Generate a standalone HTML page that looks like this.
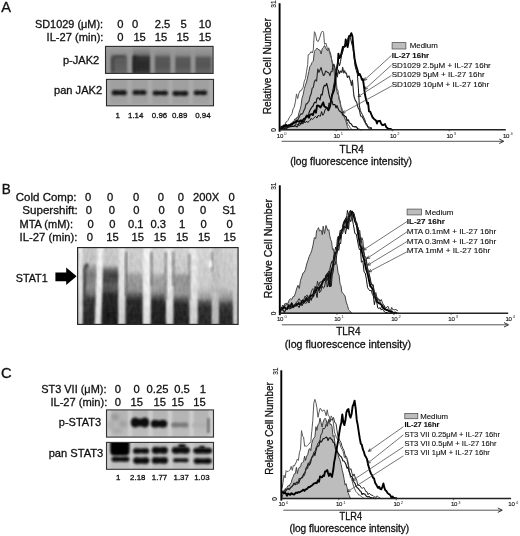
<!DOCTYPE html>
<html><head><meta charset="utf-8"><style>
html,body{margin:0;padding:0;background:#fff;}
body{width:520px;height:536px;overflow:hidden;}
svg{display:block;font-family:"Liberation Sans", sans-serif;will-change:transform;}
</style></head><body>
<svg width="520" height="536" viewBox="0 0 520 536">
<defs>
<filter id="b1" x="-50%" y="-50%" width="200%" height="200%"><feGaussianBlur stdDeviation="1.2"/></filter>
<filter id="b2" x="-50%" y="-50%" width="200%" height="200%"><feGaussianBlur stdDeviation="2"/></filter>
<filter id="b3" x="-50%" y="-50%" width="200%" height="200%"><feGaussianBlur stdDeviation="0.8"/></filter>
<filter id="b4" x="-50%" y="-50%" width="200%" height="200%"><feGaussianBlur stdDeviation="3"/></filter>
<clipPath id="cA1"><rect x="105.5" y="46.5" width="107.5" height="26.5"/></clipPath>
<clipPath id="cA2"><rect x="106.5" y="79.5" width="106.5" height="26"/></clipPath>
<clipPath id="cG"><rect x="77.5" y="247.5" width="160.5" height="76.5"/></clipPath>
<clipPath id="cC1"><rect x="106.5" y="410" width="106.5" height="27"/></clipPath>
<clipPath id="cC2"><rect x="106.5" y="442.5" width="106.5" height="26.5"/></clipPath>
<linearGradient id="gpj" x1="0" y1="0" x2="0" y2="1">
 <stop offset="0" stop-color="#a2a2a2"/><stop offset="0.3" stop-color="#8c8c8c"/><stop offset="1" stop-color="#7a7a7a"/>
</linearGradient>
<linearGradient id="vg1" gradientUnits="userSpaceOnUse" x1="0" y1="46" x2="0" y2="74"><stop offset="0.000" stop-color="#a2a2a2"/><stop offset="0.250" stop-color="#989898"/><stop offset="0.429" stop-color="#868686"/><stop offset="0.964" stop-color="#808080"/></linearGradient><linearGradient id="vg2" gradientUnits="userSpaceOnUse" x1="0" y1="46" x2="0" y2="74"><stop offset="0.000" stop-color="#a0a0a0"/><stop offset="0.286" stop-color="#8e8e8e"/><stop offset="0.375" stop-color="#606060"/><stop offset="0.571" stop-color="#5c5c5c"/><stop offset="0.857" stop-color="#626262"/><stop offset="1.000" stop-color="#6e6e6e"/></linearGradient><linearGradient id="vg3" gradientUnits="userSpaceOnUse" x1="0" y1="46" x2="0" y2="74"><stop offset="0.000" stop-color="#9e9e9e"/><stop offset="0.286" stop-color="#767676"/><stop offset="0.393" stop-color="#343434"/><stop offset="0.714" stop-color="#282828"/><stop offset="0.893" stop-color="#323232"/><stop offset="1.000" stop-color="#484848"/></linearGradient><linearGradient id="vg4" gradientUnits="userSpaceOnUse" x1="0" y1="46" x2="0" y2="74"><stop offset="0.000" stop-color="#a0a0a0"/><stop offset="0.286" stop-color="#8a8a8a"/><stop offset="0.411" stop-color="#585858"/><stop offset="0.714" stop-color="#545454"/><stop offset="0.857" stop-color="#5e5e5e"/><stop offset="1.000" stop-color="#686868"/></linearGradient><linearGradient id="vg5" gradientUnits="userSpaceOnUse" x1="0" y1="46" x2="0" y2="74"><stop offset="0.000" stop-color="#a0a0a0"/><stop offset="0.321" stop-color="#8a8a8a"/><stop offset="0.429" stop-color="#5a5a5a"/><stop offset="0.714" stop-color="#565656"/><stop offset="0.857" stop-color="#606060"/><stop offset="1.000" stop-color="#6a6a6a"/></linearGradient><linearGradient id="vg6" gradientUnits="userSpaceOnUse" x1="0" y1="46" x2="0" y2="74"><stop offset="0.000" stop-color="#a0a0a0"/><stop offset="0.321" stop-color="#8a8a8a"/><stop offset="0.429" stop-color="#5a5a5a"/><stop offset="0.714" stop-color="#565656"/><stop offset="0.857" stop-color="#606060"/><stop offset="1.000" stop-color="#6a6a6a"/></linearGradient><linearGradient id="vg7" gradientUnits="userSpaceOnUse" x1="0" y1="79" x2="0" y2="106"><stop offset="0.000" stop-color="#a0a0a0"/><stop offset="0.593" stop-color="#9e9e9e"/><stop offset="0.889" stop-color="#a2a2a2"/><stop offset="1.000" stop-color="#acacac"/></linearGradient><linearGradient id="vg8" gradientUnits="userSpaceOnUse" x1="0" y1="410" x2="0" y2="437"><stop offset="0.000" stop-color="#b4b4b4"/><stop offset="0.556" stop-color="#b6b6b6"/><stop offset="1.000" stop-color="#bebebe"/></linearGradient><linearGradient id="vg9" gradientUnits="userSpaceOnUse" x1="0" y1="442" x2="0" y2="469"><stop offset="0.000" stop-color="#bcbcbc"/><stop offset="0.481" stop-color="#b9b9b9"/><stop offset="1.000" stop-color="#c0c0c0"/></linearGradient><filter id="grain" x="0" y="0" width="100%" height="100%" color-interpolation-filters="sRGB"><feTurbulence type="fractalNoise" baseFrequency="0.3 0.15" numOctaves="2" seed="5" result="n"/><feColorMatrix in="n" type="matrix" values="1 0 0 0 0  1 0 0 0 0  1 0 0 0 0  0 0 0 0 1" result="g"/><feComposite in="SourceGraphic" in2="g" operator="arithmetic" k1="0" k2="1" k3="0.12" k4="-0.06"/></filter><linearGradient id="vg10" gradientUnits="userSpaceOnUse" x1="0" y1="247" x2="0" y2="325"><stop offset="0.000" stop-color="#c8c8c8"/><stop offset="0.487" stop-color="#b9b9b9"/><stop offset="0.679" stop-color="#969696"/><stop offset="1.000" stop-color="#8c8c8c"/></linearGradient><linearGradient id="vg11" gradientUnits="userSpaceOnUse" x1="0" y1="247" x2="0" y2="325"><stop offset="0.000" stop-color="#c6c6c6"/><stop offset="0.205" stop-color="#c0c0c0"/><stop offset="0.269" stop-color="#989898"/><stop offset="0.346" stop-color="#7c7c7c"/><stop offset="0.423" stop-color="#808080"/><stop offset="0.526" stop-color="#8c8c8c"/><stop offset="0.603" stop-color="#707070"/><stop offset="0.667" stop-color="#373737"/><stop offset="1.000" stop-color="#232323"/></linearGradient><linearGradient id="vg12" gradientUnits="userSpaceOnUse" x1="0" y1="247" x2="0" y2="325"><stop offset="0.000" stop-color="#cacaca"/><stop offset="0.231" stop-color="#c2c2c2"/><stop offset="0.295" stop-color="#646464"/><stop offset="0.359" stop-color="#424242"/><stop offset="0.449" stop-color="#4a4a4a"/><stop offset="0.487" stop-color="#5c5c5c"/><stop offset="0.551" stop-color="#545454"/><stop offset="0.615" stop-color="#282828"/><stop offset="1.000" stop-color="#191919"/></linearGradient><linearGradient id="vg13" gradientUnits="userSpaceOnUse" x1="0" y1="247" x2="0" y2="325"><stop offset="0.000" stop-color="#cecece"/><stop offset="0.308" stop-color="#c7c7c7"/><stop offset="0.359" stop-color="#a0a0a0"/><stop offset="0.436" stop-color="#969696"/><stop offset="0.487" stop-color="#969696"/><stop offset="0.564" stop-color="#878787"/><stop offset="0.628" stop-color="#505050"/><stop offset="0.679" stop-color="#2d2d2d"/><stop offset="1.000" stop-color="#1e1e1e"/></linearGradient><linearGradient id="vg14" gradientUnits="userSpaceOnUse" x1="0" y1="247" x2="0" y2="325"><stop offset="0.000" stop-color="#d5d5d5"/><stop offset="0.321" stop-color="#cecece"/><stop offset="0.372" stop-color="#a5a5a5"/><stop offset="0.449" stop-color="#9e9e9e"/><stop offset="0.500" stop-color="#a0a0a0"/><stop offset="0.577" stop-color="#919191"/><stop offset="0.641" stop-color="#555555"/><stop offset="0.705" stop-color="#2a2a2a"/><stop offset="1.000" stop-color="#1e1e1e"/></linearGradient><linearGradient id="vg15" gradientUnits="userSpaceOnUse" x1="0" y1="247" x2="0" y2="325"><stop offset="0.000" stop-color="#d1d1d1"/><stop offset="0.321" stop-color="#c7c7c7"/><stop offset="0.372" stop-color="#969696"/><stop offset="0.462" stop-color="#929292"/><stop offset="0.513" stop-color="#9b9b9b"/><stop offset="0.603" stop-color="#969696"/><stop offset="0.667" stop-color="#5a5a5a"/><stop offset="0.731" stop-color="#2d2d2d"/><stop offset="1.000" stop-color="#202020"/></linearGradient><linearGradient id="vg16" gradientUnits="userSpaceOnUse" x1="0" y1="247" x2="0" y2="325"><stop offset="0.000" stop-color="#d6d6d6"/><stop offset="0.526" stop-color="#c8c8c8"/><stop offset="0.654" stop-color="#989898"/><stop offset="0.718" stop-color="#464646"/><stop offset="0.782" stop-color="#303030"/><stop offset="1.000" stop-color="#282828"/></linearGradient><linearGradient id="vg17" gradientUnits="userSpaceOnUse" x1="0" y1="247" x2="0" y2="325"><stop offset="0.000" stop-color="#d0d0d0"/><stop offset="0.526" stop-color="#c4c4c4"/><stop offset="0.667" stop-color="#8e8e8e"/><stop offset="0.731" stop-color="#464646"/><stop offset="0.795" stop-color="#303030"/><stop offset="1.000" stop-color="#282828"/></linearGradient><linearGradient id="vg18" gradientUnits="userSpaceOnUse" x1="0" y1="247" x2="0" y2="325"><stop offset="0.000" stop-color="#e8e8e8"/><stop offset="0.551" stop-color="#e2e2e2"/><stop offset="1.000" stop-color="#d4d4d4"/></linearGradient><linearGradient id="vg19" gradientUnits="userSpaceOnUse" x1="0" y1="247" x2="0" y2="325"><stop offset="0.000" stop-color="#f0f0f0"/><stop offset="0.551" stop-color="#eaeaea"/><stop offset="1.000" stop-color="#dedede"/></linearGradient><linearGradient id="vg20" gradientUnits="userSpaceOnUse" x1="0" y1="247" x2="0" y2="325"><stop offset="0.000" stop-color="#e4e4e4"/><stop offset="0.551" stop-color="#dedede"/><stop offset="1.000" stop-color="#cdcdcd"/></linearGradient><linearGradient id="vg21" gradientUnits="userSpaceOnUse" x1="0" y1="247" x2="0" y2="325"><stop offset="0.000" stop-color="#f0f0f0"/><stop offset="0.551" stop-color="#eaeaea"/><stop offset="1.000" stop-color="#dedede"/></linearGradient><linearGradient id="vg22" gradientUnits="userSpaceOnUse" x1="0" y1="247" x2="0" y2="325"><stop offset="0.000" stop-color="#e8e8e8"/><stop offset="0.551" stop-color="#e2e2e2"/><stop offset="1.000" stop-color="#d2d2d2"/></linearGradient><linearGradient id="vg23" gradientUnits="userSpaceOnUse" x1="0" y1="247" x2="0" y2="325"><stop offset="0.000" stop-color="#e6e6e6"/><stop offset="0.551" stop-color="#e0e0e0"/><stop offset="1.000" stop-color="#cdcdcd"/></linearGradient><linearGradient id="vg24" gradientUnits="userSpaceOnUse" x1="0" y1="247" x2="0" y2="325"><stop offset="0.000" stop-color="#c3c3c3"/><stop offset="0.551" stop-color="#bdbdbd"/><stop offset="1.000" stop-color="#b9b9b9"/></linearGradient><linearGradient id="vg25" gradientUnits="userSpaceOnUse" x1="0" y1="247" x2="0" y2="325"><stop offset="0.000" stop-color="#d4d4d4"/><stop offset="0.551" stop-color="#cecece"/><stop offset="1.000" stop-color="#c6c6c6"/></linearGradient></defs>
<rect width="520" height="536" fill="#fff"/>
<g clip-path="url(#cA1)">
<rect x="105" y="45" width="110" height="30" fill="url(#vg1)"/>
<rect x="110.5" y="45" width="16.5" height="30" fill="url(#vg2)" filter="url(#b3)"/>
<rect x="132.5" y="45" width="18.0" height="30" fill="url(#vg3)" filter="url(#b3)"/>
<rect x="154.5" y="45" width="16.0" height="30" fill="url(#vg4)" filter="url(#b3)"/>
<rect x="175" y="45" width="16" height="30" fill="url(#vg5)" filter="url(#b3)"/>
<rect x="195" y="45" width="16" height="30" fill="url(#vg6)" filter="url(#b3)"/>
<rect x="106.2" y="50" width="3.6" height="24" fill="#959595" filter="url(#b1)"/>
<rect x="128.0" y="50" width="3.6" height="24" fill="#959595" filter="url(#b1)"/>
<rect x="150.7" y="50" width="3.6" height="24" fill="#959595" filter="url(#b1)"/>
<rect x="171.0" y="50" width="3.6" height="24" fill="#959595" filter="url(#b1)"/>
<rect x="191.2" y="50" width="3.6" height="24" fill="#959595" filter="url(#b1)"/>
<path d="M111.5,72 L111.5,60 Q112,55.5 116,55.5 L125,55.5 L125,58 L117,58 Q114.5,58.5 114.5,62 L114.5,72 Z" fill="#4a4a4a" filter="url(#b1)"/>
<rect x="133" y="56" width="4" height="16" fill="#2a2a2a" filter="url(#b1)"/>
</g>
<rect x="105.5" y="46.4" width="107.6" height="27" fill="none" stroke="#2a2a2a" stroke-width="1.1"/>
<g clip-path="url(#cA2)">
<rect x="106" y="79" width="108" height="28" fill="url(#vg7)"/>
<rect x="106" y="79" width="4" height="28" fill="#ababab" filter="url(#b1)"/>
<rect x="127.5" y="79" width="4" height="28" fill="#ababab" filter="url(#b1)"/>
<rect x="148" y="79" width="4" height="28" fill="#ababab" filter="url(#b1)"/>
<rect x="168.5" y="79" width="4" height="28" fill="#ababab" filter="url(#b1)"/>
<rect x="189" y="79" width="4" height="28" fill="#ababab" filter="url(#b1)"/>
<rect x="209.5" y="79" width="4" height="28" fill="#ababab" filter="url(#b1)"/>
<path d="M115.30,90.10 Q119.30,90.90 123.30,90.10 Q126.90,90.10 126.90,92.70 Q126.90,95.30 123.30,95.30 Q119.30,94.50 115.30,95.30 Q111.70,95.30 111.70,92.70 Q111.70,90.10 115.30,90.10 Z" fill="#141414" filter="url(#b3)"/>
<path d="M135.90,90.00 Q139.50,90.80 143.10,90.00 Q146.60,90.00 146.60,92.50 Q146.60,95.00 143.10,95.00 Q139.50,94.20 135.90,95.00 Q132.40,95.00 132.40,92.50 Q132.40,90.00 135.90,90.00 Z" fill="#141414" filter="url(#b3)"/>
<path d="M156.10,90.40 Q160.30,91.40 164.50,90.40 Q168.00,90.40 168.00,92.90 Q168.00,95.40 164.50,95.40 Q160.30,94.40 156.10,95.40 Q152.60,95.40 152.60,92.90 Q152.60,90.40 156.10,90.40 Z" fill="#141414" filter="url(#b3)"/>
<path d="M176.00,90.70 Q180.35,91.70 184.70,90.70 Q188.30,90.70 188.30,93.30 Q188.30,95.90 184.70,95.90 Q180.35,94.90 176.00,95.90 Q172.40,95.90 172.40,93.30 Q172.40,90.70 176.00,90.70 Z" fill="#141414" filter="url(#b3)"/>
<path d="M197.20,90.30 Q200.45,91.30 203.70,90.30 Q207.20,90.30 207.20,92.80 Q207.20,95.30 203.70,95.30 Q200.45,94.30 197.20,95.30 Q193.70,95.30 193.70,92.80 Q193.70,90.30 197.20,90.30 Z" fill="#141414" filter="url(#b3)"/>
</g>
<rect x="106.5" y="79.4" width="107" height="26.4" fill="none" stroke="#2a2a2a" stroke-width="1.1"/>
<g clip-path="url(#cC1)">
<rect x="106" y="409" width="108" height="29" fill="url(#vg8)"/>
<rect x="106.8" y="409" width="4.4" height="29" fill="#cdcdcd" filter="url(#b1)"/>
<rect x="127.8" y="409" width="4.4" height="29" fill="#cdcdcd" filter="url(#b1)"/>
<rect x="148.3" y="409" width="4.4" height="29" fill="#cdcdcd" filter="url(#b1)"/>
<rect x="167.8" y="409" width="4.4" height="29" fill="#cdcdcd" filter="url(#b1)"/>
<rect x="189.3" y="409" width="4.4" height="29" fill="#cdcdcd" filter="url(#b1)"/>
<rect x="208.8" y="409" width="4.4" height="29" fill="#cdcdcd" filter="url(#b1)"/>
<ellipse cx="115" cy="417" rx="4" ry="2.5" fill="#8a8a8a" filter="url(#b2)"/>
<ellipse cx="123" cy="424" rx="3.5" ry="2.5" fill="#939393" filter="url(#b2)"/>
<ellipse cx="117" cy="431" rx="5" ry="2" fill="#9c9c9c" filter="url(#b2)"/>
<ellipse cx="110" cy="425" rx="2" ry="5" fill="#a0a0a0" filter="url(#b2)"/>
<path d="M135.90,417.60 Q140.00,420.40 144.10,417.60 Q149.20,417.60 149.20,422.60 Q149.20,427.60 144.10,427.60 Q140.00,424.80 135.90,427.60 Q130.80,427.60 130.80,422.60 Q130.80,417.60 135.90,417.60 Z" fill="#0a0a0a" filter="url(#b3)"/>
<path d="M155.35,419.70 Q159.00,421.30 162.65,419.70 Q167.30,419.70 167.30,423.70 Q167.30,427.70 162.65,427.70 Q159.00,426.10 155.35,427.70 Q150.70,427.70 150.70,423.70 Q150.70,419.70 155.35,419.70 Z" fill="#0e0e0e" filter="url(#b3)"/>
<path d="M174.80,422.30 Q179.80,423.10 184.80,422.30 Q188.40,422.30 188.40,424.90 Q188.40,427.50 184.80,427.50 Q179.80,426.70 174.80,427.50 Q171.20,427.50 171.20,424.90 Q171.20,422.30 174.80,422.30 Z" fill="#7a7a7a" filter="url(#b3)"/>
<path d="M195.20,423.00 Q199.85,423.80 204.50,423.00 Q207.70,423.00 207.70,425.20 Q207.70,427.40 204.50,427.40 Q199.85,426.60 195.20,427.40 Q192.00,427.40 192.00,425.20 Q192.00,423.00 195.20,423.00 Z" fill="#b0b0b0" filter="url(#b3)"/>
<rect x="207.2" y="418" width="2.4" height="15" fill="#6a6a6a" filter="url(#b3)"/>
</g>
<rect x="106.5" y="409.9" width="107" height="27.2" fill="none" stroke="#333" stroke-width="1.1"/>
<g clip-path="url(#cC2)">
<rect x="106" y="441" width="108" height="30" fill="url(#vg9)"/>
<rect x="106.8" y="441" width="4.4" height="30" fill="#cbcbcb" filter="url(#b1)"/>
<rect x="129.3" y="441" width="4.4" height="30" fill="#cbcbcb" filter="url(#b1)"/>
<rect x="148.3" y="441" width="4.4" height="30" fill="#cbcbcb" filter="url(#b1)"/>
<rect x="168.3" y="441" width="4.4" height="30" fill="#cbcbcb" filter="url(#b1)"/>
<rect x="189.3" y="441" width="4.4" height="30" fill="#cbcbcb" filter="url(#b1)"/>
<rect x="209.3" y="441" width="4.4" height="30" fill="#cbcbcb" filter="url(#b1)"/>
<path d="M110.2,441 L129.5,441 L129.5,451 Q129.5,455.5 125,455.5 L114.5,455.5 Q110.2,455.5 110.2,451 Z" fill="#050505" filter="url(#b3)"/>
<path d="M115.10,456.60 Q120.45,457.40 125.80,456.60 Q129.40,456.60 129.40,459.20 Q129.40,461.80 125.80,461.80 Q120.45,461.00 115.10,461.80 Q111.50,461.80 111.50,459.20 Q111.50,456.60 115.10,456.60 Z" fill="#0a0a0a" filter="url(#b3)"/>
<path d="M136.90,448.00 Q141.10,449.00 145.30,448.00 Q149.20,448.00 149.20,450.90 Q149.20,453.80 145.30,453.80 Q141.10,452.80 136.90,453.80 Q133.00,453.80 133.00,450.90 Q133.00,448.00 136.90,448.00 Z" fill="#0a0a0a" filter="url(#b3)"/>
<path d="M137.40,457.20 Q141.25,458.40 145.10,457.20 Q149.50,457.20 149.50,460.60 Q149.50,464.00 145.10,464.00 Q141.25,462.80 137.40,464.00 Q133.00,464.00 133.00,460.60 Q133.00,457.20 137.40,457.20 Z" fill="#0a0a0a" filter="url(#b3)"/>
<path d="M156.27,446.70 Q159.85,447.90 163.43,446.70 Q168.00,446.70 168.00,450.30 Q168.00,453.90 163.43,453.90 Q159.85,452.70 156.27,453.90 Q151.70,453.90 151.70,450.30 Q151.70,446.70 156.27,446.70 Z" fill="#0a0a0a" filter="url(#b3)"/>
<path d="M156.10,457.00 Q159.85,458.00 163.60,457.00 Q168.00,457.00 168.00,460.40 Q168.00,463.80 163.60,463.80 Q159.85,462.80 156.10,463.80 Q151.70,463.80 151.70,460.40 Q151.70,457.00 156.10,457.00 Z" fill="#0a0a0a" filter="url(#b3)"/>
<path d="M176.00,446.90 Q180.80,447.70 185.60,446.90 Q190.00,446.90 190.00,450.30 Q190.00,453.70 185.60,453.70 Q180.80,452.90 176.00,453.70 Q171.60,453.70 171.60,450.30 Q171.60,446.90 176.00,446.90 Z" fill="#0a0a0a" filter="url(#b3)"/>
<ellipse cx="182" cy="446" rx="4" ry="2" fill="#0a0a0a" filter="url(#b3)"/>
<path d="M176.00,458.20 Q180.80,458.80 185.60,458.20 Q188.60,458.20 188.60,460.20 Q188.60,462.20 185.60,462.20 Q180.80,461.60 176.00,462.20 Q173.00,462.20 173.00,460.20 Q173.00,458.20 176.00,458.20 Z" fill="#0a0a0a" filter="url(#b3)"/>
<path d="M197.20,447.80 Q202.70,448.60 208.20,447.80 Q212.20,447.80 212.20,450.80 Q212.20,453.80 208.20,453.80 Q202.70,453.00 197.20,453.80 Q193.20,453.80 193.20,450.80 Q193.20,447.80 197.20,447.80 Z" fill="#0a0a0a" filter="url(#b3)"/>
<ellipse cx="202" cy="447.5" rx="3" ry="1.8" fill="#0a0a0a" filter="url(#b3)"/>
<path d="M197.60,458.00 Q202.70,459.00 207.80,458.00 Q211.80,458.00 211.80,461.00 Q211.80,464.00 207.80,464.00 Q202.70,463.00 197.60,464.00 Q193.60,464.00 193.60,461.00 Q193.60,458.00 197.60,458.00 Z" fill="#0a0a0a" filter="url(#b3)"/>
</g>
<rect x="106.5" y="442.4" width="107" height="26.9" fill="none" stroke="#333" stroke-width="1.1"/>
<g clip-path="url(#cG)"><g filter="url(#grain)">
<rect x="77" y="247" width="162" height="78" fill="url(#vg10)"/>
<rect x="82" y="247" width="16" height="78" fill="url(#vg11)" filter="url(#b3)"/>
<rect x="101.5" y="247" width="18.0" height="78" fill="url(#vg12)" filter="url(#b3)"/>
<rect x="125.5" y="247" width="18.5" height="78" fill="url(#vg13)" filter="url(#b3)"/>
<rect x="150" y="247" width="17" height="78" fill="url(#vg14)" filter="url(#b3)"/>
<rect x="172.5" y="247" width="18.0" height="78" fill="url(#vg15)" filter="url(#b3)"/>
<rect x="196.5" y="247" width="16.5" height="78" fill="url(#vg16)" filter="url(#b3)"/>
<rect x="218.5" y="247" width="15.5" height="78" fill="url(#vg17)" filter="url(#b3)"/>
<path d="M82.5,300 L82.5,270 Q83.5,264 87.5,263 L88.5,266 Q86,268 86,273 L86,300 Z" fill="#4a4a4a" filter="url(#b1)"/>
<path d="M78.30000000000001,247 Q78.00000000000001,286 78.30000000000001,325 L82.5,325 Q82.8,286 82.5,247 Z" fill="url(#vg18)" filter="url(#b3)"/>
<path d="M97.3,247 Q96.2,286 94.69999999999999,325 L100.5,325 Q102.60000000000001,286 103.10000000000001,247 Z" fill="url(#vg19)" filter="url(#b3)"/>
<path d="M118.8,247 Q118.3,286 118.2,325 L124.60000000000001,325 Q125.3,286 125.2,247 Z" fill="url(#vg20)" filter="url(#b3)"/>
<path d="M143.10000000000002,247 Q142.8,286 142.9,325 L150.29999999999998,325 Q150.8,286 150.5,247 Z" fill="url(#vg21)" filter="url(#b3)"/>
<path d="M166.0,247 Q165.89999999999998,286 166.2,325 L173.0,325 Q173.3,286 172.8,247 Z" fill="url(#vg22)" filter="url(#b3)"/>
<path d="M189.5,247 Q189.39999999999998,286 189.7,325 L197.5,325 Q197.8,286 197.3,247 Z" fill="url(#vg23)" filter="url(#b3)"/>
<path d="M212.29999999999998,247 Q211.7,286 211.7,325 L218.3,325 Q218.90000000000003,286 218.9,247 Z" fill="url(#vg24)" filter="url(#b3)"/>
<path d="M233.20000000000002,247 Q232.9,286 233.20000000000002,325 L237.4,325 Q237.70000000000002,286 237.4,247 Z" fill="url(#vg25)" filter="url(#b3)"/>
<rect x="125.3" y="252" width="1.8" height="44" fill="#696969" filter="url(#b1)"/>
<rect x="150.7" y="252" width="1.8" height="34" fill="#737373" filter="url(#b1)"/>
<rect x="164.7" y="252" width="1.8" height="48" fill="#787878" filter="url(#b1)"/>
<rect x="172.5" y="252" width="1.8" height="34" fill="#737373" filter="url(#b1)"/>
<rect x="188.4" y="254" width="1.8" height="46" fill="#7d7d7d" filter="url(#b1)"/>
<rect x="211.29999999999998" y="252" width="1.8" height="20" fill="#8c8c8c" filter="url(#b1)"/>
<ellipse cx="210.2" cy="264" rx="1.8" ry="3.8" fill="#fcfcfc" filter="url(#b3)"/>
</g></g>
<rect x="77.6" y="247.6" width="160.5" height="76.8" fill="none" stroke="#1e1e1e" stroke-width="1.1"/>
<polygon points="280.5,129.7 281.6,129.7 282.7,128.5 283.8,127.6 284.9,126.9 286.0,127.0 287.0,125.8 288.0,124.9 289.0,125.3 290.0,124.7 291.0,124.4 292.0,122.3 293.0,122.0 294.0,120.9 295.0,118.6 296.0,119.5 297.0,117.1 298.0,117.4 299.0,112.5 300.0,109.8 301.0,105.8 302.0,98.3 303.1,95.0 304.3,88.8 305.4,85.3 306.5,82.0 307.7,77.0 308.8,71.6 309.9,66.4 311.0,65.3 312.1,62.4 313.3,61.1 314.4,51.3 316.0,49.4 317.0,48.1 317.9,48.9 318.9,50.0 320.0,50.2 321.1,54.0 322.2,48.8 323.4,47.5 324.5,45.5 325.6,47.7 326.7,49.9 327.8,50.8 328.6,47.8 329.5,50.4 331.0,55.4 332.5,65.1 334.0,71.0 335.0,77.8 336.0,85.9 337.5,94.1 338.4,94.2 339.2,98.3 340.5,104.9 341.8,110.8 343.1,113.9 344.5,118.0 345.9,120.9 347.2,126.2 348.1,128.3 349.0,129.4 349.0,129.7 280.5,129.7" fill="#bdbdbd" stroke="#444" stroke-width="1.0" stroke-linejoin="round"/>
<polyline points="280.5,128.5 281.7,125.9 282.8,125.9 284.0,125.1 285.0,124.7 286.0,121.8 287.0,121.6 288.0,120.3 289.0,118.1 290.0,116.5 291.0,115.1 292.0,113.6 293.1,108.9 294.2,107.2 295.4,101.9 296.5,93.9 297.7,98.6 298.8,93.7 300.0,90.8 301.1,90.8 302.1,89.0 303.2,87.1 304.3,81.2 305.5,78.4 306.6,71.1 307.7,64.7 308.2,54.8 309.1,54.6 310.1,53.1 311.0,51.6 312.2,53.0 313.3,49.8 314.4,31.7 315.4,33.3 316.8,40.8 318.3,41.4 319.7,37.8 321.2,32.8 322.6,31.0 323.6,32.5 324.5,44.2 326.0,43.2 327.5,49.3 329.0,50.6 330.5,55.9 331.4,58.3 332.4,62.1 334.0,67.5 335.5,76.1 337.0,88.5 338.0,90.4 339.0,100.2 340.0,100.3 341.0,106.7 342.0,108.1 343.0,115.0 344.0,116.5 345.0,117.3 346.0,118.3 347.0,121.9 348.0,124.9 349.0,125.4 350.0,127.3 351.0,128.9 352.0,129.4" fill="none" stroke="#5a5a5a" stroke-width="1.0" stroke-linejoin="round"/>
<polyline points="280.5,128.1 281.6,128.4 282.7,126.8 283.8,127.7 284.9,126.6 286.0,126.3 287.2,127.3 288.4,125.6 289.6,125.0 290.8,125.1 292.0,124.9 293.2,123.2 294.4,122.9 295.6,120.7 296.8,120.4 298.0,119.6 299.0,117.2 300.0,115.5 301.0,113.8 302.0,114.1 303.0,112.8 304.0,110.2 305.0,108.4 306.0,103.9 307.0,103.9 308.0,102.4 309.0,101.2 310.0,96.6 311.1,94.1 312.2,88.2 313.3,87.4 314.4,81.7 315.5,79.9 316.6,81.0 317.8,69.0 318.9,72.3 320.0,70.0 321.1,67.5 322.2,72.1 323.4,75.5 324.5,74.7 325.6,71.0 326.7,71.6 327.8,72.6 328.9,73.1 330.0,75.7 331.0,71.6 332.0,71.7 333.0,65.0 334.0,64.3 335.1,68.5 336.2,70.7 337.3,77.0 338.4,70.1 339.5,73.5 340.6,71.0 341.8,72.3 342.7,67.3 343.7,72.9 344.6,70.8 345.5,72.9 346.3,73.1 347.4,77.5 349.0,75.8 349.9,79.2 350.7,81.6 351.5,85.4 352.4,80.2 353.9,96.0 355.3,100.4 356.6,102.2 358.0,107.5 359.3,109.6 360.6,115.9 362.0,116.6 363.3,118.8 364.6,121.5 366.0,124.2 367.4,126.3 368.7,128.0 369.8,129.7 370.9,128.3 372.0,127.9" fill="none" stroke="#2a2a2a" stroke-width="1.15" stroke-linejoin="round"/>
<polyline points="280.5,128.5 281.6,128.6 282.6,127.9 283.7,128.2 284.7,128.4 285.8,127.9 286.8,128.4 287.9,126.8 288.9,127.2 290.0,126.6 291.1,126.2 292.3,126.3 293.4,126.3 294.6,126.1 295.7,125.9 296.9,126.9 298.0,125.6 299.2,123.0 300.4,123.6 301.6,122.1 302.8,121.3 304.0,122.2 305.2,119.0 306.4,115.2 307.6,116.0 308.8,113.4 310.0,110.3 311.0,108.6 312.0,107.0 313.0,106.0 314.0,103.3 315.0,102.1 316.0,102.9 317.0,98.3 318.0,97.8 319.0,98.3 320.0,100.0 321.1,94.3 322.2,94.9 323.4,87.7 324.5,85.3 325.6,85.8 326.7,83.4 327.9,88.3 329.0,94.4 330.0,98.0 331.0,100.2 332.0,100.9 333.0,104.8 334.0,104.6 335.0,104.6 336.0,107.9 337.0,105.6 338.0,108.3 339.3,110.9 340.5,111.8 341.8,112.9 342.9,115.2 344.0,115.2 345.0,116.2 346.1,116.8 347.2,120.4 348.3,119.8 349.4,122.8 350.4,123.4 351.5,124.2 352.6,126.3 353.7,126.5 354.8,126.9 356.0,126.6 357.1,128.0 358.2,129.0 359.3,129.3 360.6,129.7 362.0,129.7" fill="none" stroke="#111" stroke-width="1.15" stroke-linejoin="round"/>
<polyline points="280.5,127.4 281.6,127.0 282.7,127.6 283.8,125.5 284.9,126.3 286.0,124.7 287.2,126.3 288.4,125.3 289.6,125.7 290.8,124.1 292.0,124.3 293.2,123.3 294.4,122.5 295.6,122.6 296.8,121.0 298.0,121.2 299.0,121.8 300.0,120.9 301.0,120.3 302.0,122.2 303.0,120.1 304.0,118.7 305.0,118.7 306.0,117.2 307.0,116.6 308.0,115.9 309.0,117.7 310.0,114.8 311.0,114.2 312.0,114.1 313.0,115.0 314.0,111.5 315.0,110.2 316.0,112.7 317.0,105.6 318.0,105.5 319.2,106.1 320.4,107.5 322.0,104.7 323.2,102.4 324.4,106.5 326.0,107.3 327.2,108.3 328.4,110.3 330.0,106.3 331.1,100.7 332.1,95.0 333.1,92.7 334.1,89.7 335.0,84.3 336.2,71.4 337.0,68.0 337.9,62.6 338.4,53.7 339.5,58.0 340.6,56.7 341.8,51.7 342.9,46.9 344.0,47.1 345.1,46.3 345.7,39.5 346.8,44.7 347.6,47.0 348.5,42.1 349.0,36.1 350.1,36.4 351.3,33.2 352.4,36.2 353.5,48.9 354.6,58.4 355.8,64.9 357.4,69.7 358.6,75.0 359.7,73.9 360.8,76.3 361.9,79.8 362.8,79.0 363.6,83.6 365.0,94.8 366.1,99.5 367.3,103.8 368.1,102.8 369.0,111.3 370.2,111.6 371.4,114.6 372.7,117.5 374.0,118.9 375.0,119.7 376.0,120.5 377.0,123.5 378.0,121.0 379.0,121.1 380.0,120.8 381.0,123.2 382.0,124.8 383.0,125.2 384.0,124.7 385.0,124.1 386.2,127.0 387.3,127.9 388.5,129.2 389.7,128.9 390.8,129.0 392.0,129.7" fill="none" stroke="#000" stroke-width="1.9" stroke-linejoin="round"/>
<polyline points="280.5,128.8 281.6,127.3 282.8,127.6 283.9,127.8 285.1,128.4 286.2,127.3 287.4,126.0 288.6,126.9 289.7,125.7 290.9,127.1 292.0,125.8 293.1,127.0 294.2,125.5 295.3,124.6 296.4,124.0 297.6,124.6 298.7,125.0 299.8,125.3 300.9,124.4 302.0,123.4 303.1,123.8 304.3,121.6 305.4,122.7 306.6,121.0 307.7,122.5 308.9,121.5 310.0,120.4 311.1,118.4 312.3,119.4 313.4,118.7 314.6,117.1 315.7,116.4 316.9,118.1 318.0,115.5 319.2,115.8 320.4,116.2 321.6,111.6 322.8,115.3 324.0,113.4 325.0,110.0 326.0,108.5 327.0,107.1 328.0,109.5 329.0,102.9 330.0,104.8 331.0,99.9 332.0,94.9 333.2,88.2 334.5,81.4 335.5,75.6 336.5,71.4 338.0,60.7 339.5,65.8 340.5,61.6 341.5,55.6 343.0,51.0 344.0,46.1 345.0,44.1 346.0,42.8 347.0,43.1 348.0,37.9 349.0,35.8 350.5,38.1 352.0,44.7 353.0,47.8 354.0,57.0 355.2,66.5 356.3,70.5 357.4,74.2 358.4,88.9 359.3,105.0 360.3,110.5 361.3,112.5 362.4,114.6 363.6,117.2 364.7,119.4 365.7,122.7 366.7,123.7 367.7,126.9 368.7,126.9 369.8,127.4 370.9,127.8 372.0,128.7" fill="none" stroke="#111" stroke-width="1.0" stroke-linejoin="round"/>
<rect x="392.09999999999997" y="42.6" width="13.800000000000022" height="6.399999999999996" fill="#bdbdbd" stroke="#555" stroke-width="0.8"/>
<text x="409.80" y="48.4" font-size="7.6" font-weight="normal" textLength="28.01" lengthAdjust="spacingAndGlyphs" fill="#111" stroke="#111" stroke-width="0.12" >Medium</text>
<text x="391.70" y="57.7" font-size="7.6" font-weight="bold" textLength="37.39" lengthAdjust="spacingAndGlyphs" fill="#111" stroke="#111" stroke-width="0.12" >IL-27 16hr</text>
<text x="391.70" y="67.5" font-size="7.6" font-weight="normal" textLength="99.10" lengthAdjust="spacingAndGlyphs" fill="#111" stroke="#111" stroke-width="0.12" >SD1029 2.5μM + IL-27 16hr</text>
<text x="391.70" y="77" font-size="7.6" font-weight="normal" textLength="92.90" lengthAdjust="spacingAndGlyphs" fill="#111" stroke="#111" stroke-width="0.12" >SD1029 5μM + IL-27 16hr</text>
<text x="391.70" y="86.8" font-size="7.6" font-weight="normal" textLength="97.61" lengthAdjust="spacingAndGlyphs" fill="#111" stroke="#111" stroke-width="0.12" >SD1029 10μM + IL-27 16hr</text>
<line x1="391.4" y1="55.5" x2="364.1" y2="80.3" stroke="#3a3a3a" stroke-width="0.7"/>
<polyline points="365.3,77.3 364.1,80.3 367.2,79.4" fill="none" stroke="#222" stroke-width="0.8"/>
<line x1="391.4" y1="65.2" x2="364.7" y2="89.4" stroke="#3a3a3a" stroke-width="0.7"/>
<polyline points="365.9,86.4 364.7,89.4 367.8,88.5" fill="none" stroke="#222" stroke-width="0.8"/>
<line x1="391.4" y1="75.5" x2="358" y2="96.7" stroke="#3a3a3a" stroke-width="0.7"/>
<polyline points="359.7,94.0 358,96.7 361.2,96.3" fill="none" stroke="#222" stroke-width="0.8"/>
<line x1="392" y1="85.8" x2="342.3" y2="113" stroke="#3a3a3a" stroke-width="0.7"/>
<polyline points="344.2,110.4 342.3,113 345.5,112.8" fill="none" stroke="#222" stroke-width="0.8"/>
<line x1="279.6" y1="3.2" x2="279.6" y2="131.7" stroke="#000" stroke-width="1.9"/>
<line x1="279.6" y1="129.7" x2="505.8" y2="129.7" stroke="#222" stroke-width="1.5"/>
<text transform="translate(276.1,4.1000000000000005) rotate(-90)" font-size="6.6" text-anchor="middle" fill="#111" stroke="#111" stroke-width="0.15">31</text>
<text transform="translate(275.70000000000005,130.0) rotate(-90)" font-size="6.6" text-anchor="middle" fill="#111" stroke="#111" stroke-width="0.15">0</text>
<text x="276.85" y="137.5" font-size="6.1" letter-spacing="-0.35" fill="#111" stroke="#111" stroke-width="0.12">10</text>
<text x="284.20000000000005" y="134.6" font-size="4.0" fill="#222">0</text>
<text x="333.40000000000003" y="137.5" font-size="6.1" letter-spacing="-0.35" fill="#111" stroke="#111" stroke-width="0.12">10</text>
<text x="340.75000000000006" y="134.6" font-size="4.0" fill="#222">1</text>
<line x1="336.15000000000003" y1="129.7" x2="336.15000000000003" y2="131.29999999999998" stroke="#222" stroke-width="0.7"/>
<text x="389.95000000000005" y="137.5" font-size="6.1" letter-spacing="-0.35" fill="#111" stroke="#111" stroke-width="0.12">10</text>
<text x="397.30000000000007" y="134.6" font-size="4.0" fill="#222">2</text>
<line x1="392.70000000000005" y1="129.7" x2="392.70000000000005" y2="131.29999999999998" stroke="#222" stroke-width="0.7"/>
<text x="446.5" y="137.5" font-size="6.1" letter-spacing="-0.35" fill="#111" stroke="#111" stroke-width="0.12">10</text>
<text x="453.85" y="134.6" font-size="4.0" fill="#222">3</text>
<line x1="449.25" y1="129.7" x2="449.25" y2="131.29999999999998" stroke="#222" stroke-width="0.7"/>
<text x="503.05" y="137.5" font-size="6.1" letter-spacing="-0.35" fill="#111" stroke="#111" stroke-width="0.12">10</text>
<text x="510.40000000000003" y="134.6" font-size="4.0" fill="#222">4</text>
<line x1="281.6" y1="141.29999999999998" x2="503.3" y2="141.29999999999998" stroke="#555" stroke-width="1"/>
<polyline points="499.3,139.1 503.8,141.29999999999998 499.3,143.49999999999997" fill="none" stroke="#333" stroke-width="1"/>
<text x="339.60" y="152.7" font-size="10.1" font-weight="normal" textLength="24.20" lengthAdjust="spacingAndGlyphs" fill="#111" stroke="#111" stroke-width="0.3" >TLR4</text>
<text x="290.20" y="164.6" font-size="10.3" font-weight="normal" textLength="121.80" lengthAdjust="spacingAndGlyphs" fill="#111" stroke="#111" stroke-width="0.3" >(log fluorescence intensity)</text>
<g transform="translate(270.5,114.3) rotate(-90)">
<text x="0.00" y="0" font-size="10.3" font-weight="normal" textLength="96.08" lengthAdjust="spacingAndGlyphs" fill="#111" stroke="#111" stroke-width="0.3" >Relative Cell Number</text>
</g>
<polygon points="280.5,311.7 281.7,310.6 282.8,309.1 284.0,305.4 285.0,303.3 285.9,303.7 286.9,303.2 288.1,303.4 289.4,299.6 290.6,298.8 291.8,299.4 293.1,296.6 294.3,296.3 295.5,292.8 296.8,288.1 298.0,285.3 299.3,288.5 300.5,280.3 301.8,276.8 303.0,273.0 304.3,272.3 305.5,269.3 306.7,264.0 308.0,260.2 309.2,256.5 310.5,253.7 311.7,250.7 313.0,245.2 314.4,237.5 315.7,238.8 316.6,230.8 317.6,229.6 318.5,227.6 319.5,231.2 320.4,230.2 321.3,230.4 322.3,234.7 323.2,226.1 324.5,233.7 326.0,225.4 326.9,228.1 327.9,230.6 328.8,229.7 329.7,235.3 330.6,239.4 331.6,241.8 332.5,249.6 333.4,248.8 334.4,256.0 335.3,255.0 336.2,261.1 337.1,265.3 338.1,272.8 339.1,275.2 340.0,284.0 340.9,285.5 341.8,292.0 342.9,293.2 343.9,294.8 345.0,295.7 346.2,302.1 347.5,305.5 348.5,309.5 349.5,310.5 350.8,312.3 352.0,313.2 352.0,313.2 280.5,313.2" fill="#bdbdbd" stroke="#444" stroke-width="1.0" stroke-linejoin="round"/>
<polyline points="280.5,310.0 281.6,308.1 282.8,308.7 283.9,306.4 285.0,307.9 286.1,308.9 287.2,308.8 288.4,305.9 289.5,306.1 290.6,306.0 291.7,303.3 292.8,307.2 294.0,305.9 295.1,305.3 296.2,305.5 297.3,303.7 298.4,303.9 299.6,304.3 300.7,303.8 301.8,302.0 302.9,300.3 304.0,301.9 305.2,300.8 306.3,298.1 307.4,300.4 308.5,298.6 309.6,297.3 310.8,295.7 311.9,295.3 313.0,295.8 314.2,290.9 315.5,292.3 316.7,288.2 317.9,287.8 319.2,289.2 320.4,286.2 321.6,284.7 322.9,281.1 324.1,280.2 325.4,278.6 326.6,275.5 327.9,273.4 328.8,281.0 329.7,286.0 330.6,275.9 331.6,269.8 332.5,267.7 333.4,263.7 334.4,256.0 335.3,253.4 336.2,252.5 337.2,250.3 338.1,244.7 339.0,237.1 339.9,238.8 340.9,233.5 341.9,230.3 342.8,228.7 343.9,223.3 345.0,220.6 346.0,218.8 347.0,228.2 348.0,222.0 349.0,216.2 350.0,215.6 351.0,213.9 352.0,211.6 353.5,214.7 355.0,221.4 356.5,223.3 358.0,233.0 359.0,238.8 360.0,245.2 361.0,246.9 362.0,252.0 363.0,256.3 364.4,260.6 365.7,267.6 366.9,271.5 368.0,275.2 369.1,280.7 370.3,286.2 371.6,287.4 373.0,289.7 374.0,294.4 375.0,297.1 376.0,299.0 377.0,301.9 378.0,302.3 379.3,303.4 380.5,304.0 381.8,305.0 382.9,307.5 383.9,308.6 385.0,309.4 386.3,310.0 387.5,309.8 388.8,311.1 389.9,311.4 390.9,312.1 391.9,311.9 393.0,313.2 394.0,313.2 395.0,312.4 396.0,313.0 397.0,313.2" fill="none" stroke="#000" stroke-width="1.9" stroke-linejoin="round"/>
<polyline points="278.9,311.8 280.0,312.2 281.1,309.7 282.3,309.3 283.4,310.4 284.5,311.7 285.6,309.8 286.8,307.6 287.9,307.7 289.0,308.3 290.1,309.2 291.2,307.6 292.4,306.7 293.5,306.5 294.6,306.7 295.7,305.0 296.8,305.7 298.0,305.8 299.1,307.6 300.2,304.6 301.3,305.5 302.4,301.3 303.6,303.9 304.7,301.9 305.8,299.8 306.9,299.7 308.0,300.6 309.2,296.8 310.3,298.9 311.4,299.1 312.6,297.8 313.9,296.1 315.1,286.3 316.3,290.1 317.6,286.7 318.8,290.5 320.0,286.2 321.3,284.8 322.5,283.6 323.8,278.8 325.0,278.8 326.3,274.7 327.2,287.1 328.1,284.8 329.0,279.6 330.0,268.2 330.9,264.3 331.8,261.4 332.8,262.1 333.7,258.3 334.6,253.3 335.6,247.0 336.5,250.1 337.4,238.5 338.3,236.1 339.3,237.0 340.2,230.2 341.2,230.8 342.3,229.8 343.4,223.9 344.4,227.2 345.4,228.2 346.4,221.7 347.4,210.4 348.4,214.2 349.4,216.1 350.4,210.1 351.9,216.6 353.4,224.7 354.9,233.5 356.4,234.3 357.4,240.0 358.4,245.4 359.4,249.6 360.4,248.8 361.4,262.2 362.8,260.8 364.1,272.1 365.2,273.0 366.4,279.2 367.5,287.4 368.7,289.5 370.0,290.7 371.4,290.4 372.4,294.5 373.4,296.0 374.4,304.7 375.4,299.6 376.4,299.7 377.7,307.9 378.9,308.5 380.2,307.6 381.3,310.1 382.3,309.1 383.4,310.4 384.7,312.1 385.9,312.6 387.2,312.4 388.2,313.2 389.3,313.2 390.3,313.2 391.4,312.2 392.4,313.2 393.4,313.0 394.4,313.2 395.4,313.2" fill="none" stroke="#111" stroke-width="1.0" stroke-linejoin="round"/>
<polyline points="282.1,310.6 283.2,309.6 284.4,313.2 285.5,309.9 286.6,309.3 287.7,309.2 288.8,307.6 290.0,307.0 291.1,308.4 292.2,306.7 293.3,308.1 294.4,306.2 295.6,303.4 296.7,303.7 297.8,304.0 298.9,301.7 300.0,304.5 301.2,303.8 302.3,305.6 303.4,302.0 304.5,302.4 305.6,303.2 306.8,302.8 307.9,298.4 309.0,303.1 310.1,297.3 311.2,300.5 312.4,295.8 313.5,294.3 314.6,290.9 315.8,292.1 317.1,297.6 318.3,286.8 319.5,292.6 320.8,291.3 322.0,285.7 323.2,288.2 324.5,287.1 325.7,280.3 327.0,277.8 328.2,280.8 329.5,276.6 330.4,286.5 331.3,286.3 332.2,275.1 333.2,271.8 334.1,263.8 335.0,264.8 336.0,260.9 336.9,253.9 337.9,248.8 338.8,250.3 339.7,242.8 340.6,243.8 341.6,234.5 342.5,233.8 343.5,230.2 344.4,226.0 345.5,234.0 346.6,227.9 347.6,223.2 348.6,229.3 349.6,217.2 350.6,221.7 351.6,219.7 352.6,214.0 353.6,212.5 355.1,217.7 356.6,224.4 358.1,227.7 359.6,234.5 360.6,239.6 361.6,242.4 362.6,249.3 363.6,251.8 364.6,256.7 366.0,257.1 367.3,266.9 368.5,271.4 369.6,275.5 370.8,281.4 371.9,285.5 373.2,284.8 374.6,294.8 375.6,297.5 376.6,296.8 377.6,301.1 378.6,299.5 379.6,300.7 380.9,304.0 382.1,308.2 383.4,306.9 384.5,305.9 385.5,309.3 386.6,309.3 387.9,309.8 389.1,311.6 390.4,310.0 391.5,310.4 392.5,311.1 393.6,313.2 394.6,313.2 395.6,312.7 396.6,312.6 397.6,313.2 398.6,313.2" fill="none" stroke="#1a1a1a" stroke-width="1.0" stroke-linejoin="round"/>
<polyline points="281.3,310.1 282.4,305.2 283.6,307.0 284.7,305.9 285.8,304.7 286.9,304.8 288.0,304.5 289.2,304.8 290.3,305.3 291.4,306.0 292.5,304.3 293.6,305.4 294.8,303.9 295.9,302.9 297.0,301.9 298.1,300.1 299.2,298.6 300.4,301.1 301.5,300.5 302.6,301.1 303.7,300.4 304.8,296.3 306.0,296.6 307.1,294.9 308.2,299.0 309.3,295.3 310.4,294.8 311.6,290.9 312.7,288.7 313.8,289.5 315.0,289.0 316.3,288.7 317.5,281.3 318.7,285.8 320.0,281.9 321.2,282.2 322.4,280.8 323.7,278.7 324.9,279.3 326.2,278.6 327.4,275.2 328.7,270.9 329.6,278.3 330.5,282.8 331.5,277.6 332.4,269.4 333.3,259.6 334.2,257.3 335.1,254.5 336.1,254.5 337.1,247.8 338.0,247.0 338.9,241.6 339.8,233.7 340.8,234.3 341.7,232.9 342.6,229.7 343.6,221.7 344.7,224.0 345.8,218.2 346.8,216.0 347.8,222.2 348.8,213.9 349.8,211.3 350.8,217.3 351.8,218.6 352.8,213.2 354.3,215.0 355.8,225.0 357.3,226.4 358.8,231.1 359.8,230.4 360.8,243.0 361.8,237.6 362.8,240.4 363.8,251.0 365.1,259.0 366.5,262.4 367.6,272.2 368.8,273.6 370.0,279.1 371.1,284.4 372.5,284.4 373.8,289.4 374.8,298.3 375.8,292.5 376.8,296.9 377.8,299.4 378.8,298.8 380.1,301.1 381.3,299.5 382.6,303.2 383.7,305.0 384.7,307.6 385.8,308.2 387.1,306.7 388.3,306.7 389.6,311.0 390.7,310.3 391.7,307.4 392.8,309.7 393.8,309.6 394.8,310.0 395.8,309.0 396.8,310.6 397.8,310.6" fill="none" stroke="#222" stroke-width="0.9" stroke-linejoin="round"/>
<rect x="407.09999999999997" y="209.1" width="14.300000000000022" height="5.800000000000023" fill="#bdbdbd" stroke="#555" stroke-width="0.8"/>
<text x="425.00" y="214.9" font-size="7.6" font-weight="normal" textLength="28.31" lengthAdjust="spacingAndGlyphs" fill="#111" stroke="#111" stroke-width="0.12" >Medium</text>
<text x="406.70" y="224.4" font-size="7.6" font-weight="bold" textLength="38.29" lengthAdjust="spacingAndGlyphs" fill="#111" stroke="#111" stroke-width="0.12" >IL-27 16hr</text>
<text x="406.70" y="234.2" font-size="7.6" font-weight="normal" textLength="89.49" lengthAdjust="spacingAndGlyphs" fill="#111" stroke="#111" stroke-width="0.12" >MTA 0.1mM + IL-27 16hr</text>
<text x="406.70" y="243.6" font-size="7.6" font-weight="normal" textLength="89.49" lengthAdjust="spacingAndGlyphs" fill="#111" stroke="#111" stroke-width="0.12" >MTA 0.3mM + IL-27 16hr</text>
<text x="406.70" y="252.6" font-size="7.6" font-weight="normal" textLength="83.50" lengthAdjust="spacingAndGlyphs" fill="#111" stroke="#111" stroke-width="0.12" >MTA 1mM + IL-27 16hr</text>
<line x1="407" y1="221.5" x2="363.3" y2="250" stroke="#3a3a3a" stroke-width="0.7"/>
<polyline points="365.0,247.3 363.3,250 366.5,249.6" fill="none" stroke="#222" stroke-width="0.8"/>
<line x1="407" y1="231.8" x2="367" y2="258.5" stroke="#3a3a3a" stroke-width="0.7"/>
<polyline points="368.6,255.7 367,258.5 370.2,258.1" fill="none" stroke="#222" stroke-width="0.8"/>
<line x1="407" y1="241.5" x2="367.6" y2="265.2" stroke="#3a3a3a" stroke-width="0.7"/>
<polyline points="369.4,262.5 367.6,265.2 370.8,264.9" fill="none" stroke="#222" stroke-width="0.8"/>
<line x1="407" y1="251.8" x2="368.8" y2="271.8" stroke="#3a3a3a" stroke-width="0.7"/>
<polyline points="370.7,269.2 368.8,271.8 372.0,271.7" fill="none" stroke="#222" stroke-width="0.8"/>
<line x1="279.8" y1="185.3" x2="279.8" y2="315.2" stroke="#000" stroke-width="1.9"/>
<line x1="279.8" y1="313.2" x2="508.2" y2="313.2" stroke="#222" stroke-width="1.5"/>
<text transform="translate(276.3,186.20000000000002) rotate(-90)" font-size="6.6" text-anchor="middle" fill="#111" stroke="#111" stroke-width="0.15">31</text>
<text transform="translate(275.90000000000003,313.5) rotate(-90)" font-size="6.6" text-anchor="middle" fill="#111" stroke="#111" stroke-width="0.15">0</text>
<text x="277.05" y="321.0" font-size="6.1" letter-spacing="-0.35" fill="#111" stroke="#111" stroke-width="0.12">10</text>
<text x="284.40000000000003" y="318.09999999999997" font-size="4.0" fill="#222">0</text>
<text x="334.15" y="321.0" font-size="6.1" letter-spacing="-0.35" fill="#111" stroke="#111" stroke-width="0.12">10</text>
<text x="341.5" y="318.09999999999997" font-size="4.0" fill="#222">1</text>
<line x1="336.9" y1="313.2" x2="336.9" y2="314.8" stroke="#222" stroke-width="0.7"/>
<text x="391.25" y="321.0" font-size="6.1" letter-spacing="-0.35" fill="#111" stroke="#111" stroke-width="0.12">10</text>
<text x="398.6" y="318.09999999999997" font-size="4.0" fill="#222">2</text>
<line x1="394.0" y1="313.2" x2="394.0" y2="314.8" stroke="#222" stroke-width="0.7"/>
<text x="448.35" y="321.0" font-size="6.1" letter-spacing="-0.35" fill="#111" stroke="#111" stroke-width="0.12">10</text>
<text x="455.70000000000005" y="318.09999999999997" font-size="4.0" fill="#222">3</text>
<line x1="451.1" y1="313.2" x2="451.1" y2="314.8" stroke="#222" stroke-width="0.7"/>
<text x="505.45" y="321.0" font-size="6.1" letter-spacing="-0.35" fill="#111" stroke="#111" stroke-width="0.12">10</text>
<text x="512.8" y="318.09999999999997" font-size="4.0" fill="#222">4</text>
<line x1="281.8" y1="324.8" x2="508.0" y2="324.8" stroke="#555" stroke-width="1"/>
<polyline points="504.0,322.6 508.5,324.8 504.0,327.0" fill="none" stroke="#333" stroke-width="1"/>
<text x="336.20" y="335.3" font-size="10.1" font-weight="normal" textLength="24.40" lengthAdjust="spacingAndGlyphs" fill="#111" stroke="#111" stroke-width="0.3" >TLR4</text>
<text x="284.80" y="348" font-size="10.3" font-weight="normal" textLength="126.30" lengthAdjust="spacingAndGlyphs" fill="#111" stroke="#111" stroke-width="0.3" >(log fluorescence intensity)</text>
<g transform="translate(272,298.2) rotate(-90)">
<text x="0.00" y="0" font-size="10.3" font-weight="normal" textLength="99.18" lengthAdjust="spacingAndGlyphs" fill="#111" stroke="#111" stroke-width="0.3" >Relative Cell Number</text>
</g>
<polygon points="282.0,497.3 283.0,494.0 284.0,489.9 285.0,490.5 286.1,488.5 287.1,487.2 288.1,485.6 289.2,486.2 290.2,483.9 291.2,482.8 292.3,478.6 293.3,476.6 294.3,473.8 295.4,473.5 296.4,467.3 297.4,473.5 298.4,469.1 299.4,467.2 300.5,466.9 301.5,463.0 302.5,462.4 303.6,461.8 304.6,456.0 305.6,460.4 306.7,456.0 307.7,454.8 308.8,449.8 309.8,448.5 310.8,450.6 311.8,443.2 312.8,440.0 313.8,438.2 314.9,436.8 315.9,426.7 316.9,430.3 318.0,424.5 319.0,423.7 320.0,418.2 321.1,422.6 322.1,427.0 323.1,422.2 324.1,419.6 325.1,418.2 326.1,419.8 327.0,424.0 328.0,421.6 329.0,419.1 330.0,424.5 331.0,424.0 332.0,426.4 333.0,436.5 334.0,435.4 335.0,444.0 336.2,445.9 337.4,450.6 338.6,457.0 339.8,459.5 341.1,464.5 342.3,470.7 343.2,474.0 344.2,479.6 345.1,485.1 346.0,483.6 347.0,487.3 347.9,492.2 349.2,495.4 350.5,498.6 350.5,498.6 282.0,498.6" fill="#bdbdbd" stroke="#444" stroke-width="1.0" stroke-linejoin="round"/>
<polyline points="282.0,488.6 283.0,482.6 284.0,475.2 285.1,478.0 286.1,470.6 287.1,471.6 288.2,471.5 289.2,470.5 290.2,469.7 291.2,466.4 292.3,470.4 293.3,465.5 294.3,466.0 295.3,464.0 296.4,461.9 297.4,459.0 298.4,460.4 299.4,452.8 300.5,449.2 301.5,430.6 302.6,436.2 303.6,437.0 304.6,446.2 305.6,445.9 306.7,446.3 307.7,445.4 308.7,444.3 309.8,443.0 310.8,441.8 311.8,431.2 312.8,420.2 313.8,403.1 314.9,399.4 315.9,402.6 316.9,407.9 318.0,417.3 319.0,412.4 320.0,408.4 321.1,409.1 322.1,411.3 323.1,410.6 324.1,409.9 325.1,412.0 326.2,415.8 327.2,409.8 328.2,415.4 329.2,416.2 330.3,421.1 331.1,415.9 332.0,417.1 333.2,421.6 334.4,431.9 335.4,434.7 336.4,437.6 337.4,439.1 338.5,441.0 339.8,443.2 341.0,447.5 342.3,449.7 343.3,452.0 344.4,457.6 345.4,455.9 346.4,456.3 347.4,459.2 348.5,464.0 349.5,472.3 350.5,477.6 351.6,478.8 352.6,482.9 353.6,486.2 354.6,488.7 355.7,491.4 356.7,492.5 357.7,493.2 358.8,495.2 359.8,495.1 360.8,496.0 361.9,496.8 362.9,497.8 364.0,498.4" fill="none" stroke="#5a5a5a" stroke-width="1.0" stroke-linejoin="round"/>
<polyline points="282.0,493.1 283.2,492.7 284.4,492.7 285.6,491.0 286.8,489.7 288.0,488.4 289.2,489.7 290.4,488.0 291.6,486.7 292.8,485.5 294.0,483.0 295.2,484.7 296.4,482.2 297.6,482.1 298.8,483.1 300.0,479.3 301.2,477.8 302.4,477.7 303.6,474.1 304.8,472.8 306.0,469.0 307.1,466.9 308.3,463.2 309.4,464.9 310.5,462.8 311.7,457.6 312.8,455.7 313.9,452.9 314.9,455.5 316.0,450.5 317.0,446.9 318.0,446.3 319.0,445.5 320.0,440.7 321.0,442.1 322.0,441.0 323.0,438.7 324.1,438.6 325.1,437.9 326.1,437.1 327.0,437.5 328.0,440.5 329.1,438.3 330.2,437.7 331.3,439.2 332.1,439.7 333.0,442.0 334.2,442.7 335.4,448.1 336.7,450.4 338.0,453.0 339.0,454.3 340.0,455.9 341.0,456.5 342.0,458.3 343.0,461.0 344.0,461.0 345.0,462.5 346.0,464.5 347.0,468.2 348.0,467.3 349.0,471.3 350.0,473.8 351.0,476.6 352.0,476.5 353.0,480.2 354.0,482.1 355.0,483.4 356.0,486.1 357.4,487.9 358.7,489.0 359.8,490.7 360.9,491.3 362.0,494.5 363.0,493.5 363.9,493.9 364.9,494.1 365.9,495.7 367.0,496.6 368.0,497.1 369.0,496.6 370.0,497.2 371.0,497.5 372.2,498.2 373.4,497.9 374.6,498.3 375.8,498.6 377.0,497.7" fill="none" stroke="#151515" stroke-width="1.15" stroke-linejoin="round"/>
<polyline points="282.0,490.9 283.1,491.2 284.3,491.9 285.4,488.6 286.6,490.4 287.7,488.5 288.9,489.6 290.0,487.7 291.1,487.0 292.3,486.8 293.4,484.7 294.6,484.5 295.7,483.4 296.9,484.6 298.0,482.4 299.2,478.0 300.4,479.3 301.6,477.5 302.8,475.5 304.0,476.0 305.2,473.1 306.4,466.8 307.6,468.8 308.8,463.5 310.0,461.1 311.0,459.0 312.0,457.6 313.0,457.0 314.0,451.9 315.0,451.5 316.0,447.9 317.0,446.0 318.0,443.0 319.0,442.0 320.0,439.7 321.0,434.3 322.0,433.7 323.0,428.2 324.1,428.9 325.1,427.8 326.1,424.2 327.2,426.3 328.2,422.8 329.2,420.3 330.3,421.6 331.3,419.4 332.4,419.9 333.5,417.5 334.8,422.7 336.0,423.5 337.0,430.4 338.0,436.9 339.0,438.9 340.0,440.9 341.0,442.6 342.0,446.3 343.0,448.7 344.0,450.6 345.0,455.0 346.0,458.2 347.0,459.5 348.0,464.6 349.0,468.3 350.0,469.5 351.0,468.7 352.0,473.3 353.0,476.2 354.0,473.9 355.4,477.7 356.7,480.2 357.8,485.3 358.9,485.5 360.0,485.5 361.2,487.8 362.4,488.2 363.7,487.4 364.9,489.5 365.9,491.7 367.0,491.7 368.0,494.8 369.0,493.2 370.0,494.0 371.0,494.8 372.0,495.3 373.1,495.6 374.1,496.7 375.1,497.5 376.2,496.5 377.2,496.1 378.4,497.1 379.6,497.8 380.8,498.6 382.0,498.6" fill="none" stroke="#333" stroke-width="1.0" stroke-linejoin="round"/>
<polyline points="282.0,491.7 283.0,492.7 284.0,493.3 285.0,492.5 286.0,493.7 287.1,495.7 288.1,493.5 289.1,494.2 290.2,494.8 291.5,493.2 292.7,494.2 294.0,494.6 295.1,493.5 296.2,492.5 297.3,493.0 298.4,492.1 299.6,492.2 300.8,491.5 302.0,490.9 303.2,489.7 304.4,490.9 305.5,489.4 306.7,489.2 307.7,488.1 308.7,487.0 309.8,487.0 310.8,486.1 311.8,485.5 312.8,484.7 313.8,483.5 314.9,483.4 315.9,482.8 316.9,483.0 318.0,480.3 319.0,481.8 320.0,476.4 321.0,477.1 322.1,477.3 323.1,475.5 324.1,475.9 325.1,471.4 326.1,471.3 327.2,470.0 328.1,473.1 329.0,475.9 330.1,473.6 331.3,475.5 332.0,476.9 333.4,469.0 334.1,462.6 335.1,457.6 336.2,450.5 337.2,446.0 338.2,440.4 339.2,433.4 340.3,426.5 341.3,422.4 342.3,414.4 343.4,422.7 344.4,425.1 345.4,420.3 346.4,412.3 347.4,409.8 348.5,409.1 349.5,415.0 350.5,417.6 351.6,414.0 352.6,406.5 353.6,404.2 354.6,400.6 355.7,408.5 356.7,419.7 357.7,424.7 358.7,431.6 359.8,438.5 360.8,443.8 361.8,444.7 362.8,449.2 363.9,451.8 364.9,455.5 365.9,456.9 367.0,459.1 368.0,464.4 369.0,467.7 370.0,471.2 371.0,473.7 372.0,475.1 373.1,477.8 374.1,478.6 375.1,482.8 376.2,484.5 377.2,486.4 378.2,488.0 379.2,486.7 380.3,489.0 381.3,489.3 382.4,486.8 383.4,483.5 384.4,487.9 385.4,490.3 386.4,491.1 387.4,492.8 388.5,493.9 389.5,494.3 390.5,495.5 391.6,498.1 392.6,496.6 393.6,498.0 394.7,498.0 395.9,498.1 397.0,498.6" fill="none" stroke="#000" stroke-width="1.9" stroke-linejoin="round"/>
<rect x="404.79999999999995" y="413.4" width="13.00000000000001" height="5.300000000000023" fill="#bdbdbd" stroke="#555" stroke-width="0.8"/>
<text x="420.20" y="418.5" font-size="7.6" font-weight="normal" textLength="27.91" lengthAdjust="spacingAndGlyphs" fill="#111" stroke="#111" stroke-width="0.12" >Medium</text>
<text x="404.40" y="427.2" font-size="7.6" font-weight="bold" textLength="34.99" lengthAdjust="spacingAndGlyphs" fill="#111" stroke="#111" stroke-width="0.12" >IL-27 16hr</text>
<text x="404.40" y="436.7" font-size="7.6" font-weight="normal" textLength="95.61" lengthAdjust="spacingAndGlyphs" fill="#111" stroke="#111" stroke-width="0.12" >ST3 VII 0.25μM + IL-27 16hr</text>
<text x="404.40" y="446.4" font-size="7.6" font-weight="normal" textLength="92.10" lengthAdjust="spacingAndGlyphs" fill="#111" stroke="#111" stroke-width="0.12" >ST3 VII 0.5μM + IL-27 16hr</text>
<text x="404.40" y="454.8" font-size="7.6" font-weight="normal" textLength="85.51" lengthAdjust="spacingAndGlyphs" fill="#111" stroke="#111" stroke-width="0.12" >ST3 VII 1μM + IL-27 16hr</text>
<line x1="403.4" y1="426.7" x2="368.4" y2="451.3" stroke="#3a3a3a" stroke-width="0.7"/>
<polyline points="370.0,448.5 368.4,451.3 371.6,450.8" fill="none" stroke="#222" stroke-width="0.8"/>
<line x1="403.4" y1="434.9" x2="367.6" y2="463.3" stroke="#3a3a3a" stroke-width="0.7"/>
<polyline points="369.0,460.4 367.6,463.3 370.7,462.6" fill="none" stroke="#222" stroke-width="0.8"/>
<line x1="403.4" y1="446.9" x2="352.7" y2="480.4" stroke="#3a3a3a" stroke-width="0.7"/>
<polyline points="354.3,477.7 352.7,480.4 355.9,480.0" fill="none" stroke="#222" stroke-width="0.8"/>
<line x1="403.4" y1="455.8" x2="347.5" y2="491.6" stroke="#3a3a3a" stroke-width="0.7"/>
<polyline points="349.2,488.9 347.5,491.6 350.7,491.2" fill="none" stroke="#222" stroke-width="0.8"/>
<line x1="281.3" y1="370.3" x2="281.3" y2="500.6" stroke="#000" stroke-width="1.9"/>
<line x1="281.3" y1="498.6" x2="511.1" y2="498.6" stroke="#222" stroke-width="1.5"/>
<text transform="translate(277.8,371.2) rotate(-90)" font-size="6.6" text-anchor="middle" fill="#111" stroke="#111" stroke-width="0.15">31</text>
<text transform="translate(277.40000000000003,498.90000000000003) rotate(-90)" font-size="6.6" text-anchor="middle" fill="#111" stroke="#111" stroke-width="0.15">0</text>
<text x="278.55" y="506.40000000000003" font-size="6.1" letter-spacing="-0.35" fill="#111" stroke="#111" stroke-width="0.12">10</text>
<text x="285.90000000000003" y="503.5" font-size="4.0" fill="#222">0</text>
<text x="336.0" y="506.40000000000003" font-size="6.1" letter-spacing="-0.35" fill="#111" stroke="#111" stroke-width="0.12">10</text>
<text x="343.35" y="503.5" font-size="4.0" fill="#222">1</text>
<line x1="338.75" y1="498.6" x2="338.75" y2="500.20000000000005" stroke="#222" stroke-width="0.7"/>
<text x="393.45000000000005" y="506.40000000000003" font-size="6.1" letter-spacing="-0.35" fill="#111" stroke="#111" stroke-width="0.12">10</text>
<text x="400.80000000000007" y="503.5" font-size="4.0" fill="#222">2</text>
<line x1="396.20000000000005" y1="498.6" x2="396.20000000000005" y2="500.20000000000005" stroke="#222" stroke-width="0.7"/>
<text x="450.90000000000003" y="506.40000000000003" font-size="6.1" letter-spacing="-0.35" fill="#111" stroke="#111" stroke-width="0.12">10</text>
<text x="458.25000000000006" y="503.5" font-size="4.0" fill="#222">3</text>
<line x1="453.65000000000003" y1="498.6" x2="453.65000000000003" y2="500.20000000000005" stroke="#222" stroke-width="0.7"/>
<text x="508.35" y="506.40000000000003" font-size="6.1" letter-spacing="-0.35" fill="#111" stroke="#111" stroke-width="0.12">10</text>
<text x="515.7" y="503.5" font-size="4.0" fill="#222">4</text>
<line x1="283.3" y1="510.20000000000005" x2="501.8" y2="510.20000000000005" stroke="#555" stroke-width="1"/>
<polyline points="497.8,508.00000000000006 502.3,510.20000000000005 497.8,512.4000000000001" fill="none" stroke="#333" stroke-width="1"/>
<text x="339.60" y="520.4" font-size="10.1" font-weight="normal" textLength="22.50" lengthAdjust="spacingAndGlyphs" fill="#111" stroke="#111" stroke-width="0.3" >TLR4</text>
<text x="289.40" y="532.2" font-size="10.3" font-weight="normal" textLength="119.80" lengthAdjust="spacingAndGlyphs" fill="#111" stroke="#111" stroke-width="0.3" >(log fluorescence intensity)</text>
<g transform="translate(272.5,474.8) rotate(-90)">
<text x="0.00" y="0" font-size="10.3" font-weight="normal" textLength="92.48" lengthAdjust="spacingAndGlyphs" fill="#111" stroke="#111" stroke-width="0.3" >Relative Cell Number</text>
</g>
<text x="1.20" y="12" font-size="14.5" font-weight="normal" textLength="9.76" lengthAdjust="spacingAndGlyphs" fill="#111" stroke="#111" stroke-width="0.3" >A</text>
<text x="1.70" y="194.4" font-size="14.0" font-weight="normal" textLength="9.03" lengthAdjust="spacingAndGlyphs" fill="#111" stroke="#111" stroke-width="0.3" >B</text>
<text x="1.00" y="378" font-size="14.5" font-weight="normal" textLength="10.63" lengthAdjust="spacingAndGlyphs" fill="#111" stroke="#111" stroke-width="0.3" >C</text>
<text x="34.90" y="27.5" font-size="11.2" font-weight="normal" textLength="68.20" lengthAdjust="spacingAndGlyphs" fill="#111" stroke="#111" stroke-width="0.3" >SD1029 (μM):</text>
<text x="46.60" y="40.7" font-size="11.2" font-weight="normal" textLength="56.87" lengthAdjust="spacingAndGlyphs" fill="#111" stroke="#111" stroke-width="0.3" >IL-27 (min):</text>
<text x="117.29" y="27.5" font-size="11.2" font-weight="normal" fill="#111" stroke="#111" stroke-width="0.3">0</text>
<text x="132.09" y="27.5" font-size="11.2" font-weight="normal" fill="#111" stroke="#111" stroke-width="0.3">0</text>
<text x="154.72" y="27.5" font-size="11.2" font-weight="normal" fill="#111" stroke="#111" stroke-width="0.3">2.5</text>
<text x="180.39" y="27.5" font-size="11.2" font-weight="normal" fill="#111" stroke="#111" stroke-width="0.3">5</text>
<text x="198.78" y="27.5" font-size="11.2" font-weight="normal" fill="#111" stroke="#111" stroke-width="0.3">10</text>
<text x="117.29" y="40.7" font-size="11.2" font-weight="normal" fill="#111" stroke="#111" stroke-width="0.3">0</text>
<text x="133.38" y="40.7" font-size="11.2" font-weight="normal" fill="#111" stroke="#111" stroke-width="0.3">15</text>
<text x="154.68" y="40.7" font-size="11.2" font-weight="normal" fill="#111" stroke="#111" stroke-width="0.3">15</text>
<text x="176.48" y="40.7" font-size="11.2" font-weight="normal" fill="#111" stroke="#111" stroke-width="0.3">15</text>
<text x="198.78" y="40.7" font-size="11.2" font-weight="normal" fill="#111" stroke="#111" stroke-width="0.3">15</text>
<text x="62.90" y="63.6" font-size="10.8" font-weight="normal" textLength="36.29" lengthAdjust="spacingAndGlyphs" fill="#111" stroke="#111" stroke-width="0.3" >p-JAK2</text>
<text x="54.00" y="94.4" font-size="10.8" font-weight="normal" textLength="48.12" lengthAdjust="spacingAndGlyphs" fill="#111" stroke="#111" stroke-width="0.3" >pan JAK2</text>
<text x="115.61" y="117.5" font-size="7.9" font-weight="normal" fill="#111" stroke="#111" stroke-width="0.3">1</text>
<text x="128.02" y="117.5" font-size="7.9" font-weight="normal" fill="#111" stroke="#111" stroke-width="0.3">1.14</text>
<text x="151.82" y="117.5" font-size="7.9" font-weight="normal" fill="#111" stroke="#111" stroke-width="0.3">0.96</text>
<text x="171.92" y="117.5" font-size="7.9" font-weight="normal" fill="#111" stroke="#111" stroke-width="0.3">0.89</text>
<text x="195.22" y="117.5" font-size="7.9" font-weight="normal" fill="#111" stroke="#111" stroke-width="0.3">0.94</text>
<text x="15.80" y="200.6" font-size="11.2" font-weight="normal" textLength="60.70" lengthAdjust="spacingAndGlyphs" fill="#111" stroke="#111" stroke-width="0.3" >Cold Comp:</text>
<text x="22.30" y="213.6" font-size="11.2" font-weight="normal" textLength="55.40" lengthAdjust="spacingAndGlyphs" fill="#111" stroke="#111" stroke-width="0.3" >Supershift:</text>
<text x="19.50" y="227.7" font-size="11.2" font-weight="normal" textLength="53.59" lengthAdjust="spacingAndGlyphs" fill="#111" stroke="#111" stroke-width="0.3" >MTA (mM):</text>
<text x="19.50" y="240.9" font-size="11.2" font-weight="normal" textLength="57.87" lengthAdjust="spacingAndGlyphs" fill="#111" stroke="#111" stroke-width="0.3" >IL-27 (min):</text>
<text x="85.09" y="200.5" font-size="11.2" font-weight="normal" fill="#111" stroke="#111" stroke-width="0.3">0</text>
<text x="107.09" y="200.5" font-size="11.2" font-weight="normal" fill="#111" stroke="#111" stroke-width="0.3">0</text>
<text x="132.89" y="200.5" font-size="11.2" font-weight="normal" fill="#111" stroke="#111" stroke-width="0.3">0</text>
<text x="157.79" y="200.5" font-size="11.2" font-weight="normal" fill="#111" stroke="#111" stroke-width="0.3">0</text>
<text x="177.69" y="200.5" font-size="11.2" font-weight="normal" fill="#111" stroke="#111" stroke-width="0.3">0</text>
<text x="193.12" y="200.5" font-size="11.2" font-weight="normal" fill="#111" stroke="#111" stroke-width="0.3">200X</text>
<text x="228.49" y="200.5" font-size="11.2" font-weight="normal" fill="#111" stroke="#111" stroke-width="0.3">0</text>
<text x="85.79" y="214.4" font-size="11.2" font-weight="normal" fill="#111" stroke="#111" stroke-width="0.3">0</text>
<text x="108.69" y="214.4" font-size="11.2" font-weight="normal" fill="#111" stroke="#111" stroke-width="0.3">0</text>
<text x="133.29" y="214.4" font-size="11.2" font-weight="normal" fill="#111" stroke="#111" stroke-width="0.3">0</text>
<text x="158.49" y="214.4" font-size="11.2" font-weight="normal" fill="#111" stroke="#111" stroke-width="0.3">0</text>
<text x="178.09" y="214.4" font-size="11.2" font-weight="normal" fill="#111" stroke="#111" stroke-width="0.3">0</text>
<text x="200.09" y="214.4" font-size="11.2" font-weight="normal" fill="#111" stroke="#111" stroke-width="0.3">0</text>
<text x="222.14" y="214.4" font-size="11.2" font-weight="normal" fill="#111" stroke="#111" stroke-width="0.3">S1</text>
<text x="87.39" y="227.6" font-size="11.2" font-weight="normal" fill="#111" stroke="#111" stroke-width="0.3">0</text>
<text x="109.19" y="227.6" font-size="11.2" font-weight="normal" fill="#111" stroke="#111" stroke-width="0.3">0</text>
<text x="128.02" y="227.6" font-size="11.2" font-weight="normal" fill="#111" stroke="#111" stroke-width="0.3">0.1</text>
<text x="150.52" y="227.6" font-size="11.2" font-weight="normal" fill="#111" stroke="#111" stroke-width="0.3">0.3</text>
<text x="178.89" y="227.6" font-size="11.2" font-weight="normal" fill="#111" stroke="#111" stroke-width="0.3">1</text>
<text x="200.59" y="227.6" font-size="11.2" font-weight="normal" fill="#111" stroke="#111" stroke-width="0.3">0</text>
<text x="226.59" y="227.6" font-size="11.2" font-weight="normal" fill="#111" stroke="#111" stroke-width="0.3">0</text>
<text x="86.69" y="241.0" font-size="11.2" font-weight="normal" fill="#111" stroke="#111" stroke-width="0.3">0</text>
<text x="106.28" y="241.0" font-size="11.2" font-weight="normal" fill="#111" stroke="#111" stroke-width="0.3">15</text>
<text x="131.58" y="241.0" font-size="11.2" font-weight="normal" fill="#111" stroke="#111" stroke-width="0.3">15</text>
<text x="153.78" y="241.0" font-size="11.2" font-weight="normal" fill="#111" stroke="#111" stroke-width="0.3">15</text>
<text x="175.88" y="241.0" font-size="11.2" font-weight="normal" fill="#111" stroke="#111" stroke-width="0.3">15</text>
<text x="197.88" y="241.0" font-size="11.2" font-weight="normal" fill="#111" stroke="#111" stroke-width="0.3">15</text>
<text x="223.48" y="241.0" font-size="11.2" font-weight="normal" fill="#111" stroke="#111" stroke-width="0.3">15</text>
<text x="15.80" y="282" font-size="10.8" font-weight="normal" textLength="31.88" lengthAdjust="spacingAndGlyphs" fill="#111" stroke="#111" stroke-width="0.3" >STAT1</text>
<polygon points="55.4,272.5 66.2,272.5 66.2,267.4 76.6,276.3 66.2,285.1 66.2,281.2 55.4,281.2" fill="#000"/>
<text x="41.20" y="393.1" font-size="11.2" font-weight="normal" textLength="65.31" lengthAdjust="spacingAndGlyphs" fill="#111" stroke="#111" stroke-width="0.3" >ST3 VII (μM):</text>
<text x="50.40" y="406.3" font-size="11.2" font-weight="normal" textLength="56.87" lengthAdjust="spacingAndGlyphs" fill="#111" stroke="#111" stroke-width="0.3" >IL-27 (min):</text>
<text x="114.69" y="393.1" font-size="11.2" font-weight="normal" fill="#111" stroke="#111" stroke-width="0.3">0</text>
<text x="133.49" y="393.1" font-size="11.2" font-weight="normal" fill="#111" stroke="#111" stroke-width="0.3">0</text>
<text x="146.61" y="393.1" font-size="11.2" font-weight="normal" fill="#111" stroke="#111" stroke-width="0.3">0.25</text>
<text x="174.22" y="393.1" font-size="11.2" font-weight="normal" fill="#111" stroke="#111" stroke-width="0.3">0.5</text>
<text x="199.79" y="393.1" font-size="11.2" font-weight="normal" fill="#111" stroke="#111" stroke-width="0.3">1</text>
<text x="114.69" y="406.3" font-size="11.2" font-weight="normal" fill="#111" stroke="#111" stroke-width="0.3">0</text>
<text x="130.58" y="406.3" font-size="11.2" font-weight="normal" fill="#111" stroke="#111" stroke-width="0.3">15</text>
<text x="153.58" y="406.3" font-size="11.2" font-weight="normal" fill="#111" stroke="#111" stroke-width="0.3">15</text>
<text x="171.48" y="406.3" font-size="11.2" font-weight="normal" fill="#111" stroke="#111" stroke-width="0.3">15</text>
<text x="193.28" y="406.3" font-size="11.2" font-weight="normal" fill="#111" stroke="#111" stroke-width="0.3">15</text>
<text x="58.80" y="426.1" font-size="10.8" font-weight="normal" textLength="42.38" lengthAdjust="spacingAndGlyphs" fill="#111" stroke="#111" stroke-width="0.3" >p-STAT3</text>
<text x="48.70" y="456.8" font-size="10.8" font-weight="normal" textLength="54.60" lengthAdjust="spacingAndGlyphs" fill="#111" stroke="#111" stroke-width="0.3" >pan STAT3</text>
<text x="116.11" y="480.1" font-size="7.9" font-weight="normal" fill="#111" stroke="#111" stroke-width="0.3">1</text>
<text x="130.12" y="480.1" font-size="7.9" font-weight="normal" fill="#111" stroke="#111" stroke-width="0.3">2.18</text>
<text x="151.82" y="480.1" font-size="7.9" font-weight="normal" fill="#111" stroke="#111" stroke-width="0.3">1.77</text>
<text x="173.52" y="480.1" font-size="7.9" font-weight="normal" fill="#111" stroke="#111" stroke-width="0.3">1.37</text>
<text x="194.22" y="480.1" font-size="7.9" font-weight="normal" fill="#111" stroke="#111" stroke-width="0.3">1.03</text>
</svg>
</body></html>
